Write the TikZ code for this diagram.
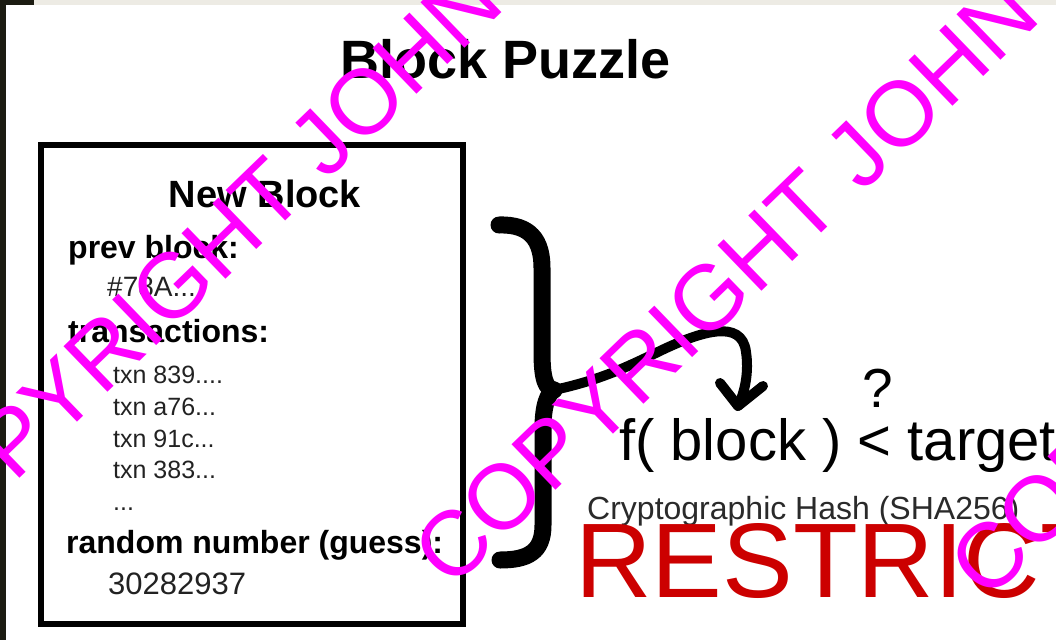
\documentclass[tikz,border=0pt]{standalone}
\usepackage{fontspec}
\setmainfont{Liberation Sans}
\definecolor{txtgray}{HTML}{222222}
\definecolor{hashgray}{HTML}{2A2A2A}
\definecolor{wmmag}{HTML}{FF00FF}
\definecolor{resred}{HTML}{CC0000}
\definecolor{darkstrip}{HTML}{1C1C12}
\definecolor{topstrip}{HTML}{EDEBE4}
\tikzset{
  lbl/.style={anchor=base west, inner sep=0pt, text=black, font=\fontsize{32}{32}\selectfont\bfseries},
  val/.style={anchor=base west, inner sep=0pt, text=txtgray, font=\fontsize{28}{28}\selectfont},
  txnline/.style={anchor=base west, inner sep=0pt, text=txtgray, font=\fontsize{25}{25}\selectfont},
  wmark/.style={anchor=base west, inner sep=0pt, rotate=44, text=wmmag, font=\fontsize{92}{92}\selectfont},
  bracestroke/.style={line width=17pt, line cap=round, line join=round},
  arrowstroke/.style={line width=10pt, line cap=round, line join=round},
}
\begin{document}
\begin{tikzpicture}[x=1pt,y=-1pt]
\useasboundingbox (0,0) rectangle (1056,640);
\clip (0,0) rectangle (1056,640);
\fill[white] (0,0) rectangle (1056,640);
% frame strips
\fill[topstrip] (0,0) rectangle (1056,5);
\fill[darkstrip] (0,0) rectangle (34,5);
\fill[darkstrip] (0,0) rectangle (6,640);
% title
\node[anchor=base, inner sep=0pt, font=\fontsize{54}{54}\selectfont\bfseries] (title) at (506,78) {Block Puzzle};
% block box
\node[draw, line width=6pt, minimum width=422pt, minimum height=479pt, inner sep=0pt] (box) at (252,384.5) {};
\node[anchor=base, inner sep=0pt, font=\fontsize{38}{38}\selectfont\bfseries] (newblock) at (265,207) {New Block};
\node[lbl] (prev) at (68,258) {prev block:};
\node[val] (prevval) at (107,296) {\#78A...};
\node[lbl] (trans) at (68,342) {transactions:};
\node[txnline] (t1) at (113,383) {txn 839....};
\node[txnline] (t2) at (113,415) {txn a76...};
\node[txnline] (t3) at (113,447) {txn 91c...};
\node[txnline] (t4) at (113,478) {txn 383...};
\node[txnline] (t5) at (113,510) {...};
\node[lbl] (rand) at (66,553) {random number (guess):};
\node[val, font=\fontsize{31}{31}\selectfont] (randval) at (108,594) {30282937};
% brace
\coordinate (btop) at (499,225);
\coordinate (btip) at (554,390);
\coordinate (bbot) at (500,560);
\draw[bracestroke] (btop) .. controls (530,224) and (542,240) .. (542,268)
  -- (542,352) .. controls (542,380) and (546,389) .. (btip);
\draw[bracestroke] (btip) .. controls (548,393) and (543,405) .. (543,428)
  -- (543,525) .. controls (543,552) and (528,560) .. (bbot);
% formula
\node[anchor=base west, inner sep=0pt, font=\fontsize{58}{58}\selectfont] (formula) at (619,460) {f( block ) < target};
\node[anchor=base, inner sep=0pt, font=\fontsize{55}{55}\selectfont] (qmark) at (878,407) {?};
\node[anchor=base west, inner sep=0pt, text=hashgray, font=\fontsize{32}{32}\selectfont] (hash) at (587,519) {Cryptographic Hash (SHA256)};
% arrow
\coordinate (ahead) at (738,406);
\draw[arrowstroke] (btip) .. controls (600,380) and (625,368) .. (662,350)
  .. controls (700,332) and (742,318) .. (746,352)
  .. controls (749,372) and (745,392) .. (ahead);
\draw[arrowstroke] (720,383) -- (ahead) -- (763,386);
% restricted
\node[anchor=base west, inner sep=0pt, text=resred, font=\fontsize{106}{106}\selectfont] (restr) at (575,597) {RESTRICTED};
% watermarks
\node[wmark] (wm1) at (-85,579) {COPYRIGHT JOHN};
\node[wmark] (wm2) at (451,591) {COPYRIGHT JOHN};
\node[wmark] (wm3) at (987,603) {COPYRIGHT JOHN};
\end{tikzpicture}
\end{document}
